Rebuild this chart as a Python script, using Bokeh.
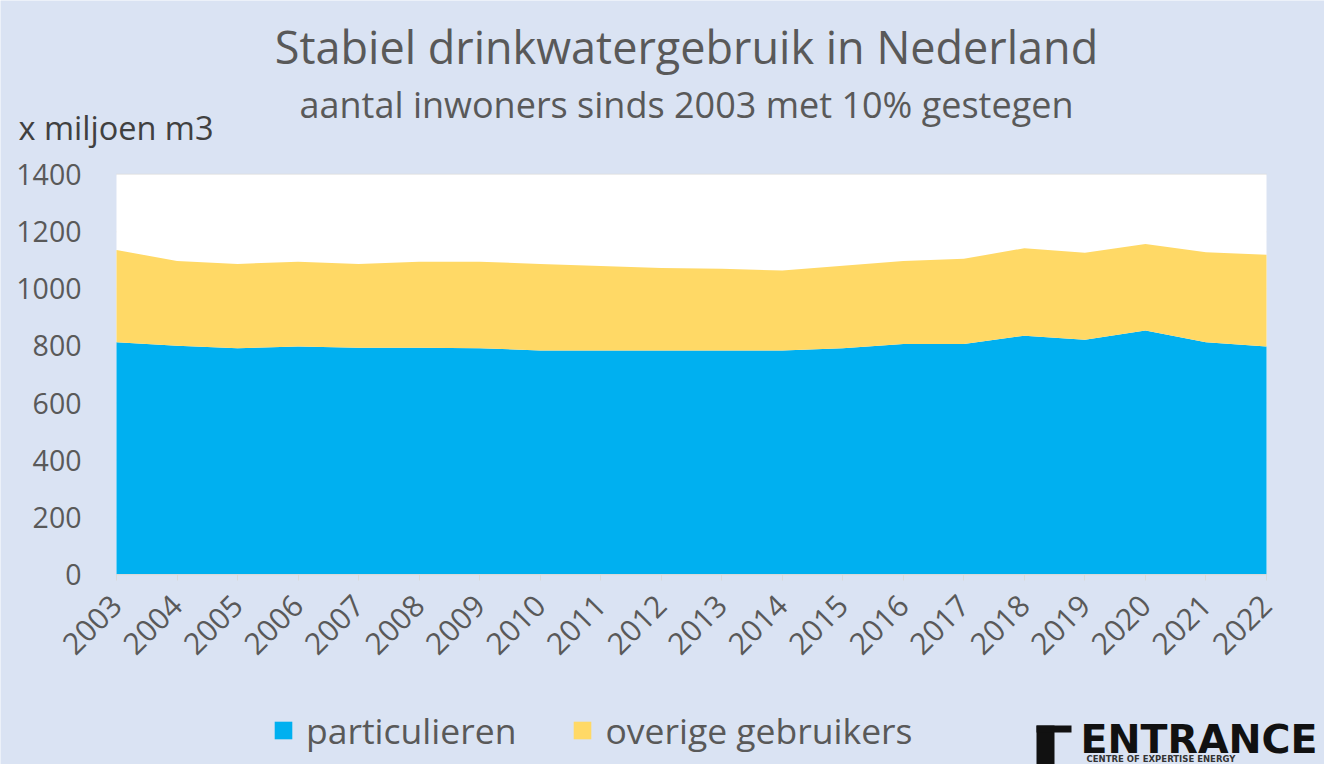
from math import pi
from bokeh.plotting import figure
from bokeh.models import (Label, Legend, LegendItem, ColumnDataSource, FixedTicker,
                          BoxAnnotation, Range1d, LinearAxis)
from bokeh.embed import file_html
from bokeh.resources import INLINE

years = list(range(2003, 2023))
particulieren = [813, 801, 792, 798, 794, 794, 792, 784, 784, 784,
                 784, 784, 792, 807, 807, 836, 822, 854, 813, 798]
overige = [323, 296, 295, 297, 293, 301, 303, 303, 296, 289,
           286, 280, 289, 290, 298, 306, 304, 303, 315, 321]
y_ticks = [0, 200, 400, 600, 800, 1000, 1200, 1400]

BG = "#DAE3F3"
FONT = "Open Sans"
GREY = "#595959"
W, H = 1324, 764

# plot area (white box) position on the canvas, in pixels
FL, FT, FR, FB = 116, 174, 1266, 574
x0, x1 = years[0], years[-1]
y0, y1 = y_ticks[0], y_ticks[-1]
kx = (x1 - x0) / (FR - FL)
ky = (y1 - y0) / (FB - FT)

src = ColumnDataSource(dict(year=years, particulieren=particulieren, overige=overige))

p = figure(width=W, height=H, output_backend="svg", toolbar_location=None,
           x_range=Range1d(x0 - FL * kx, x1 + (W - FR) * kx),
           y_range=Range1d(y0 - (H - FB) * ky, y1 + FT * ky),
           x_axis_type=None, y_axis_type=None,
           min_border=0)
p.background_fill_color = BG
p.border_fill_color = BG
p.outline_line_color = None
p.xgrid.visible = False
p.ygrid.visible = False

# white plot area
p.add_layout(BoxAnnotation(left=x0, right=x1, bottom=y0, top=y1,
                           fill_color="white", fill_alpha=1, line_color=None,
                           level="underlay"))

# horizontal grid lines
p.segment(x0=[x0] * len(y_ticks), x1=[x1] * len(y_ticks), y0=y_ticks, y1=y_ticks,
          line_color="#D9D9D9", line_width=1.5, level="underlay")

rs = p.varea_stack(["particulieren", "overige"], x="year", source=src,
                   color=["#00B0F0", "#FFD966"])

yaxis = LinearAxis(fixed_location=x0, bounds=(y0, y1), ticker=FixedTicker(ticks=y_ticks))
xaxis = LinearAxis(fixed_location=y0, bounds=(x0, x1), ticker=FixedTicker(ticks=years))
for ax in (xaxis, yaxis):
    ax.axis_line_color = None
    ax.major_tick_line_color = None
    ax.minor_tick_line_color = None
    ax.major_label_text_font = FONT
    ax.major_label_text_color = GREY
xaxis.major_label_text_font_size = "30px"
yaxis.major_label_text_font_size = "28.5px"
xaxis.axis_line_color = "#D9D9D9"
xaxis.major_tick_line_color = "#D9D9D9"
xaxis.major_tick_out = 6
xaxis.major_tick_in = 0
xaxis.major_label_orientation = pi / 4
xaxis.major_label_standoff = 20
yaxis.major_label_standoff = 29
p.add_layout(yaxis, "left")
p.add_layout(xaxis, "below")


def sx(cx):
    return cx


def sy(cy):
    return H - cy


legend = Legend(items=[LegendItem(label="particulieren", renderers=[rs[0]]),
                       LegendItem(label="overige gebruikers", renderers=[rs[1]])],
                orientation="horizontal", location=(sx(272), sy(754)),
                label_text_font=FONT, label_text_font_size="35.5px", label_text_color=GREY,
                glyph_width=22, glyph_height=22, spacing=55, label_standoff=12,
                background_fill_alpha=0, border_line_color=None,
                margin=0, padding=0)
p.add_layout(legend)


def lab(cx, cy, text, size, color=GREY, style="normal", align="left", font=FONT):
    p.add_layout(Label(x=sx(cx), y=sy(cy), x_units="screen", y_units="screen", text=text,
                       text_font=font, text_font_size=size, text_color=color,
                       text_font_style=style, text_align=align, text_baseline="middle"))


lab(686, 46, "Stabiel drinkwatergebruik in Nederland", "45px", align="center")
lab(686, 104, "aantal inwoners sinds 2003 met 10% gestegen", "36px", align="center")
lab(18, 127, "x miljoen m3", "32.5px", color="#404040")

# logo
lab(1080, 738, "ENTRANCE", "39.5px", color="#111111", style="bold", font="DejaVu Sans")
lab(1086, 758, "CENTRE OF EXPERTISE ENERGY", "8.5px", color="#333333", style="bold",
    font="DejaVu Sans")
for l, r, t, b in [(1036, 1054, 725, 764), (1036, 1071, 725, 732)]:
    p.add_layout(BoxAnnotation(left=sx(l), right=sx(r), top=sy(t), bottom=sy(b),
                               left_units="screen", right_units="screen",
                               top_units="screen", bottom_units="screen",
                               fill_color="#111111", fill_alpha=1, line_color=None))

out = file_html(p, INLINE)
open("out.html", "w").write(out)
